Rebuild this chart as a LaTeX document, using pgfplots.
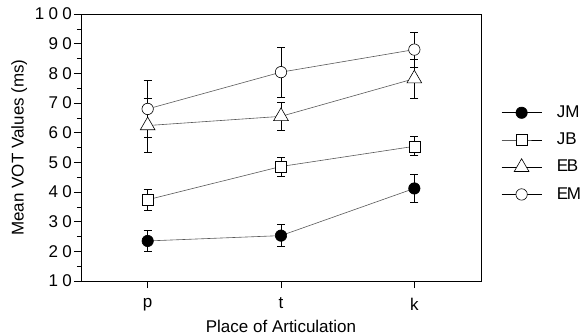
\documentclass[border=0pt]{standalone}
\usepackage{fontspec}
\setmainfont{Liberation Sans}
\usepackage{pgfplots}
\pgfplotsset{compat=1.18}
\begin{document}
\fontsize{17bp}{20bp}\selectfont
\begin{tikzpicture}
\useasboundingbox (-81bp,-55bp) rectangle (499bp,281bp);
\begin{axis}[
  scale only axis, width=400bp, height=267bp,
  xmin=-0.5, xmax=2.5, ymin=10, ymax=100,
  xtick={0,1,2}, xticklabels={p,t,k},
  ytick={10,20,...,100}, minor y tick num=1,
  xtick pos=bottom, ytick pos=left,
  tick align=outside,
  major tick length=7bp, minor tick length=4bp,
  every tick/.style={black, line width=0.6bp},
  axis line style={line width=0.8bp},
  /pgf/number format/assume math mode=true,
  yticklabel style={font=\fontsize{17bp}{20bp}\selectfont\addfontfeature{LetterSpace=25}, inner sep=0pt, xshift=-2bp},
  xticklabel style={font=\fontsize{17bp}{20bp}\selectfont, yshift=-4bp},
  xlabel={Place of Articulation}, ylabel={Mean VOT Values (ms)},
  xlabel style={font=\fontsize{17bp}{20bp}\selectfont, yshift=2bp},
  ylabel style={font=\fontsize{17bp}{20bp}\selectfont, yshift=2bp},
  error bars/error bar style={black, line width=0.9bp},
  error bars/error mark options={black, rotate=90, mark size=4bp, line width=0.9bp},
  legend style={draw=none, fill=none, at={(1.05,0.665)}, anchor=north west,
    font=\fontsize{17bp}{20bp}\selectfont, row sep=9bp, inner sep=0pt},
  legend cell align=left,
  legend image code/.code={\draw[mark repeat=2,mark phase=2,#1,black,line width=0.8bp] plot coordinates {(0bp,0bp) (20bp,0bp) (40bp,0bp)};},
]
\addplot[black!65, line width=0.6bp, mark=*, mark size=5.7bp, mark options={draw=black, fill=black, line width=0.6bp},
  error bars/.cd, y dir=both, y explicit]
  coordinates {(0,23.5) +- (0,3.4) (1,25.3) +- (0,3.8) (2,41.2) +- (0,4.8)};
\addlegendentry{\hspace{13bp}JM}
\addplot[black!65, line width=0.6bp, mark=square*, mark size=5.5bp, mark options={draw=black, fill=white, line width=0.6bp},
  error bars/.cd, y dir=both, y explicit]
  coordinates {(0,37.4) +- (0,3.5) (1,48.6) +- (0,3.2) (2,55.4) +- (0,3.2)};
\addlegendentry{\hspace{13bp}JB}
\addplot[black!65, line width=0.6bp, mark=triangle*, mark size=8.5bp, mark options={draw=black, fill=white, line width=0.6bp},
  error bars/.cd, y dir=both, y explicit]
  coordinates {(0,62.4) +- (0,9.0) (1,65.5) +- (0,4.6) (2,78.2) +- (0,6.6)};
\addlegendentry{\hspace{13bp}\addfontfeature{LetterSpace=-8}EB}
\addplot[black!65, line width=0.6bp, mark=*, mark size=5.7bp, mark options={draw=black, fill=white, line width=0.6bp},
  error bars/.cd, y dir=both, y explicit]
  coordinates {(0,68.0) +- (0,9.6) (1,80.4) +- (0,8.4) (2,88.0) +- (0,5.9)};
\addlegendentry{\hspace{13bp}\addfontfeature{LetterSpace=-8}EM}
\end{axis}
\end{tikzpicture}
\end{document}
